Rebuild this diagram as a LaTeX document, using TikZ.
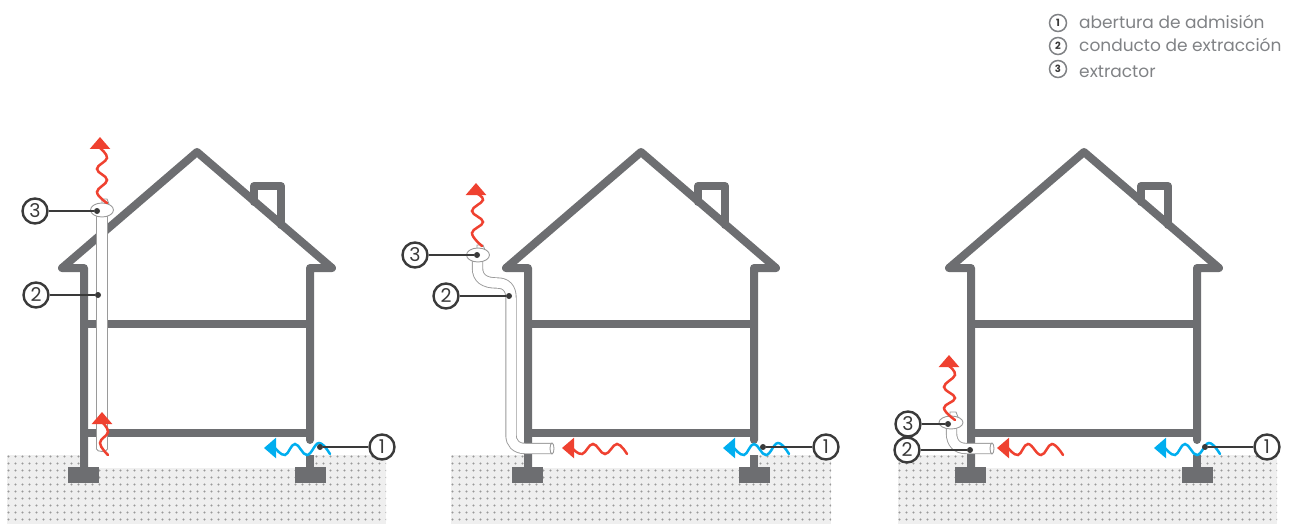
\documentclass[tikz,border=0pt]{standalone}
\usepackage{fontspec}
\setmainfont{Poppins}
\usetikzlibrary{arrows.meta,shapes.geometric}

\definecolor{wallgray}{HTML}{6D6E71}
\definecolor{ductgray}{HTML}{9A9A9A}
\definecolor{groundgray}{HTML}{EFEFEF}
\definecolor{dotgray}{HTML}{999999}
\definecolor{inkdark}{HTML}{3A3A3A}
\definecolor{textgray}{HTML}{808285}
\definecolor{airred}{HTML}{EF4130}
\definecolor{airblue}{HTML}{00AEEF}

\begin{document}
\begin{tikzpicture}[
    x=1pt, y=-1pt,
    wall/.style={draw=wallgray, line width=8pt, line join=round, line cap=round},
    wallflat/.style={draw=wallgray, line width=8pt},
    foot/.style={fill=wallgray},
    duct/.style={draw=ductgray, line width=0.9pt, double=white, double distance=9.5pt},
    ductend/.style={draw=ductgray, line width=0.9pt, fill=white},
    redair/.style={draw=airred, line width=2.5pt, line cap=round},
    blueair/.style={draw=airblue, line width=2.5pt, line cap=round},
    redtip/.style={draw=airred, line width=2.5pt, -{Triangle[length=12pt,width=20pt]}},
    bluetip/.style={draw=airblue, line width=2.5pt, -{Triangle[length=12pt,width=20pt]}},
    num/.style={circle, draw=inkdark, fill=white, line width=2.4pt, minimum size=25pt, inner sep=0pt, font=\fontsize{19}{19}\selectfont, text=inkdark},
    legnum/.style={circle, draw=textgray, fill=white, line width=1.5pt, minimum size=17pt, inner sep=0pt, font=\fontsize{10}{10}\selectfont\bfseries, text=inkdark},
    legtext/.style={anchor=base west, inner sep=0pt, font=\fontsize{17}{20}\selectfont, text=textgray},
    leaderdot/.style={circle, fill=inkdark, minimum size=6pt, inner sep=0pt},
    leader/.style={draw=inkdark, line width=2pt}
]
    \useasboundingbox (0,0) rectangle (1293,524);

    % Ground and houses
    \foreach \hx/\gl/\gr in {0/7/386, 444/451/831, 887/898/1277} {
        \begin{scope}
            \path[clip] (\gl,455) -- (\hx+84,455) -- (\hx+84,468) -- (\hx+310,468) -- (\hx+310,455)
                -- (\gr,455) -- (\gr,524) -- (\gl,524) -- cycle;
            \fill[groundgray] (\gl,455) rectangle (\gr,524);
            \foreach \i in {0,...,54} {
                \foreach \j in {0,...,9} {
                    \fill[dotgray] (\gl+1.5+7*\i,456.5+7*\j) circle (1.2);
                }
            }
        \end{scope}

        \draw[wall] (\hx+84,467) -- (\hx+84,268) -- (\hx+62,268) -- (\hx+197,152) -- (\hx+332,268) -- (\hx+310,268) -- (\hx+310,440);
        \draw[wallflat] (\hx+310,455) -- (\hx+310,467);
        \draw[wallflat] (\hx+84,324) -- (\hx+310,324);
        \draw[wallflat] (\hx+84,433) -- (\hx+310,433);
        \draw[wall] (\hx+254,202) -- (\hx+254,186) -- (\hx+281,186) -- (\hx+281,225);
        \fill[foot] (\hx+68,467) rectangle (\hx+99,483);
        \fill[foot] (\hx+295,467) rectangle (\hx+326,483);
    }

    % Ducts
    \draw[ductend] (102,449) ellipse (5.5 and 2.5);
    \draw[duct] (102,212) -- (102,449);
    \draw[ductend] (102,203) -- (102,199) -- (107,199) -- (109,204);
    \draw[ductend] (102,210) ellipse (11.5 and 7);

    \draw[duct] (477.5,255) -- (477.5,268) .. controls (477.5,278) and (484,283) .. (497,283)
        .. controls (506,283) and (511,288) .. (511,298) -- (511,435)
        .. controls (511,443) and (516,448.5) .. (525,448.5) -- (552,448.5);
    \draw[ductend] (552,448.5) ellipse (2 and 5.5);
    \draw[ductend] (477,250) -- (477,245) -- (483,245) -- (485,250);
    \draw[ductend] (478,255) ellipse (11.5 and 7);

    \draw[duct] (951.5,425) -- (951.5,433) .. controls (951.5,443) and (957,448.5) .. (966,448.5) -- (992,448.5);
    \draw[ductend] (992,448.5) ellipse (2 and 5.5);
    \draw[ductend] (950,417) -- (950,412) -- (956,412) -- (958,417);
    \draw[ductend] (951,422.5) ellipse (12 and 6.5);

    % Air
    \draw[redair] plot[smooth, tension=0.7] coordinates {(107,203) (97,192) (107,180) (97,169) (107,158) (100,148)};
    \draw[redtip] (100,148) -- (100,137);
    \draw[redair] plot[smooth, tension=0.7] coordinates {(108,455) (100,443) (108,432) (102,422)};
    \draw[redtip] (102,423) -- (102,412);
    \draw[redair] plot[smooth, tension=0.7] coordinates {(482,246) (472,233) (483,222) (472,211) (483,200) (476,193)};
    \draw[redtip] (476,194) -- (476,183);
    \draw[redair] plot[smooth, tension=0.7] coordinates {(627,454) (617,444) (605,454) (593,444) (582,454) (572,448)};
    \draw[redtip] (573,448) -- (562,448);
    \draw[redair] plot[smooth, tension=0.7] coordinates {(955,420) (944,408) (955,398) (944,387) (955,375) (949,366)};
    \draw[redtip] (949,367) -- (949,355);
    \draw[redair] plot[smooth, tension=0.7] coordinates {(1063,455) (1052,444) (1041,455) (1028,444) (1018,455) (1008,448)};
    \draw[redtip] (1009,448) -- (997,448);
    \foreach \hx in {0,459,890} {
        \draw[blueair] plot[smooth, tension=0.7] coordinates {(\hx+330,454) (\hx+319,443) (\hx+307,455) (\hx+295,444) (\hx+285,455) (\hx+275,448)};
        \draw[bluetip] (\hx+276,448) -- (\hx+264,448);
    }

    % Callouts
    \node[num] (a1) at (382,447) {1};
    \node[leaderdot] (a1dot) at (320,447) {};
    \draw[leader] (a1) -- (a1dot);
    \node[num] (a2) at (36,295) {2};
    \node[leaderdot] (a2dot) at (98,295) {};
    \draw[leader] (a2) -- (a2dot);
    \node[num] (a3) at (35,211) {3};
    \node[leaderdot] (a3dot) at (97,211) {};
    \draw[leader] (a3) -- (a3dot);

    \node[num] (b1) at (826,447) {1};
    \node[leaderdot] (b1dot) at (763,447) {};
    \draw[leader] (b1) -- (b1dot);
    \node[num] (b2) at (446,296) {2};
    \node[leaderdot] (b2dot) at (509,296) {};
    \draw[leader] (b2) -- (b2dot);
    \node[num] (b3) at (415,255) {3};
    \node[leaderdot] (b3dot) at (477,255) {};
    \draw[leader] (b3) -- (b3dot);

    \node[num] (c1) at (1267,447) {1};
    \node[leaderdot] (c1dot) at (1205,447) {};
    \draw[leader] (c1) -- (c1dot);
    \node[num] (c2) at (907,450) {2};
    \node[leaderdot] (c2dot) at (970,450) {};
    \draw[leader] (c2) -- (c2dot);
    \node[num] (c3) at (908,424) {3};
    \node[leaderdot] (c3dot) at (948,424) {};
    \draw[leader] (c3) -- (c3dot);

    % Legend
    \node[legnum] (leg1) at (1058,23) {1};
    \node[legtext] (legt1) at (1079,29) {abertura de admisión};
    \node[legnum] (leg2) at (1058,46) {2};
    \node[legtext] (legt2) at (1079,52) {conducto de extracción};
    \node[legnum] (leg3) at (1058,69) {3};
    \node[legtext] (legt3) at (1079,78) {extractor};

\end{tikzpicture}
\end{document}
